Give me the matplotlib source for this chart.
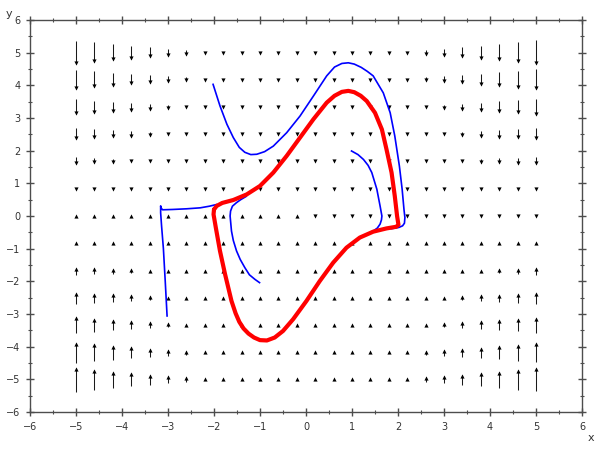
import numpy as np
import matplotlib
matplotlib.use('Agg')
import matplotlib.pyplot as plt
from matplotlib.collections import LineCollection

# grid of the direction field
x_grid = [-5.0, -4.6, -4.2, -3.8, -3.4, -3.0, -2.6, -2.2, -1.8, -1.4, -1.0, -0.6, -0.2,
          0.2, 0.6, 1.0, 1.4, 1.8, 2.2, 2.6, 3.0, 3.4, 3.8, 4.2, 4.6, 5.0]
y_grid = [5.0, 4.17, 3.33, 2.5, 1.67, 0.83, 0.0, -0.83, -1.67, -2.5, -3.33, -4.17, -5.0]

# arrow length in pixels (+ up, - down), one row per y_grid
dy_px = [
    [-24, -21, -17, -14, -11, -8, -6, -4, -2, -1, 0, 0, 0, 0, 0, 0, -1, -2, -4, -6, -8, -11, -14, -17, -21, -25],
    [-20, -17, -14, -11, -9, -7, -5, -3, -2, -1, 0, 0, 0, 0, 0, 0, -1, -2, -3, -5, -7, -9, -12, -15, -18, -21],
    [-16, -13, -11, -9, -7, -5, -4, -2, -1, -1, 0, 0, 0, 0, 0, 0, -1, -1, -3, -4, -5, -7, -9, -12, -14, -17],
    [-12, -10, -8, -7, -5, -4, -3, -2, -1, 0, 0, 0, 0, 0, 0, 0, 0, -1, -2, -3, -4, -5, -7, -9, -10, -12],
    [-8, -6, -5, -4, -3, -2, -2, -1, 0, 0, 0, 0, 0, 0, 0, 0, 0, -1, -1, -2, -3, -4, -5, -6, -7, -8],
    [-3, -3, -2, -2, -1, -1, -1, 0, 0, 0, 0, 0, 0, 0, 0, 0, 0, 0, -1, -1, -1, -2, -2, -3, -3, -4],
    [1, 1, 1, 1, 1, 1, 1, 1, 1, 1, 1, 1, 1, -1, -1, -1, -1, -1, -1, -1, -1, -1, -1, -1, -1, -1],
    [4, 3, 3, 2, 2, 1, 1, 1, 0, 0, 0, 0, 0, 0, 0, 0, 0, 0, 0, 1, 1, 1, 2, 2, 3, 3],
    [8, 7, 6, 5, 4, 3, 2, 1, 1, 0, 0, 0, 0, 0, 0, 0, 0, 0, 1, 2, 2, 3, 4, 5, 6, 8],
    [12, 10, 9, 7, 5, 4, 3, 2, 1, 0, 0, 0, 0, 0, 0, 0, 0, 1, 2, 3, 4, 5, 7, 8, 10, 12],
    [17, 14, 11, 9, 7, 5, 4, 2, 1, 1, 0, 0, 0, 0, 0, 0, 1, 1, 2, 4, 5, 7, 9, 11, 13, 16],
    [21, 18, 15, 12, 9, 7, 5, 3, 2, 1, 0, 0, 0, 0, 0, 0, 1, 2, 3, 5, 7, 9, 11, 14, 17, 20],
    [25, 21, 17, 14, 11, 8, 6, 4, 2, 1, 0, 0, 0, 0, 0, 0, 1, 2, 4, 6, 8, 11, 14, 17, 21, 24],
]

# limit cycle (red)
cycle_x = [-2.0, -1.94, -1.82, -1.58, -1.29, -1.0, -0.71, -0.42, -0.13, 0.16, 0.45, 0.62, 0.78,
           0.92, 1.05, 1.19, 1.32, 1.5, 1.65, 1.75, 1.86, 1.93, 1.98, 2.0, 2.01, 1.96, 1.75,
           1.46, 1.17, 0.88, 0.59, 0.3, 0.01, -0.28, -0.5, -0.68, -0.85, -1.0, -1.13, -1.25,
           -1.36, -1.45, -1.53, -1.62, -1.76, -1.87, -1.96, -2.01, -2.0]
cycle_y = [0.2, 0.31, 0.4, 0.49, 0.66, 0.92, 1.33, 1.84, 2.4, 2.96, 3.47, 3.68, 3.8,
           3.83, 3.79, 3.68, 3.52, 3.16, 2.65, 2.04, 1.33, 0.61, 0.0, -0.18, -0.27, -0.33, -0.38,
           -0.48, -0.66, -0.97, -1.43, -1.99, -2.6, -3.16, -3.52, -3.72, -3.81, -3.8, -3.72, -3.6,
           -3.44, -3.24, -2.98, -2.6, -1.78, -1.07, -0.36, 0.05, 0.2]

# trajectories (blue)
traj_a_x = [-2.02, -1.87, -1.72, -1.58, -1.45, -1.33, -1.2, -1.07, -0.9, -0.71, -0.42, -0.13,
            0.16, 0.45, 0.62, 0.78, 0.92, 1.05, 1.2, 1.33, 1.46, 1.68, 1.83, 1.93, 2.03, 2.09,
            2.13, 2.15, 2.14, 2.1, 2.02, 1.85]
traj_a_y = [4.03, 3.37, 2.81, 2.4, 2.1, 1.95, 1.88, 1.89, 1.97, 2.14, 2.55, 3.06,
            3.67, 4.29, 4.56, 4.67, 4.69, 4.65, 4.55, 4.43, 4.29, 3.77, 3.16, 2.45, 1.53, 0.82,
            0.2, -0.05, -0.22, -0.3, -0.35, -0.39]
traj_b_x = [0.99, 1.13, 1.25, 1.35, 1.43, 1.54, 1.61, 1.65, 1.64, 1.61, 1.55, 1.46, 1.3]
traj_b_y = [1.99, 1.88, 1.73, 1.55, 1.33, 0.82, 0.31, 0.0, -0.12, -0.25, -0.37, -0.46, -0.58]
traj_c_x = [-1.01, -1.11, -1.23, -1.33, -1.43, -1.51, -1.58, -1.62, -1.65, -1.64, -1.6, -1.51,
            -1.42, -1.3]
traj_c_y = [-2.04, -1.94, -1.8, -1.58, -1.33, -1.07, -0.75, -0.46, 0.0, 0.15, 0.3, 0.41,
            0.5, 0.6]
traj_d_x = [-3.02, -3.06, -3.1, -3.14, -3.16, -3.16, -3.15, -3.12, -2.9, -2.6, -2.3, -2.1, -1.95]
traj_d_y = [-3.06, -2.0, -1.0, -0.3, 0.1, 0.31, 0.25, 0.19, 0.2, 0.22, 0.25, 0.3, 0.35]

PX_PER_Y = 392 / 12.0   # vertical pixels per data unit in the 600x450 image
HEAD_PX = 4.0

fig = plt.figure(figsize=(6, 4.5), dpi=100)
ax = fig.add_axes([30 / 600, 38 / 450, 552 / 600, 392 / 450])

# direction field: shafts as line segments, heads as small triangles
segments = []
heads_up, heads_down = [], []
for j, y in enumerate(y_grid):
    for i, x in enumerate(x_grid):
        L = dy_px[j][i]
        if L == 0:
            direction = -1 if y > 0 else 1
        else:
            direction = 1 if L > 0 else -1
        if abs(L) > HEAD_PX:
            tail = y - L / 2 / PX_PER_Y
            tip = y + L / 2 / PX_PER_Y
            segments.append([(x, tail), (x, tip - direction * 1.0 / PX_PER_Y)])
            head_y = tip - direction * (HEAD_PX / 2) / PX_PER_Y
        else:
            head_y = y
        if direction > 0:
            heads_up.append((x, head_y))
        else:
            heads_down.append((x, head_y))

ax.add_collection(LineCollection(segments, colors='#1a1a1a', linewidths=0.75, zorder=2))
for pts, mk in ((heads_up, '^'), (heads_down, 'v')):
    pts = np.array(pts)
    ax.plot(pts[:, 0], pts[:, 1], linestyle='none', marker=mk, markersize=3.0,
            markerfacecolor='black', markeredgewidth=0, zorder=3)

blue = '#0000ff'
for tx, ty in ((traj_a_x, traj_a_y), (traj_b_x, traj_b_y),
               (traj_c_x, traj_c_y), (traj_d_x, traj_d_y)):
    ax.plot(tx, ty, color=blue, linewidth=1.2, solid_joinstyle='round', zorder=4)

ax.plot(cycle_x, cycle_y, color='#ff0000', linewidth=3.0, solid_joinstyle='round',
        solid_capstyle='round', zorder=5)

ax.set_xlim(-6, 6)
ax.set_ylim(-6, 6)
ax.set_xticks(range(-6, 7))
ax.set_yticks(range(-6, 7))
ax.set_xticks(np.arange(-5.5, 6, 1.0), minor=True)
ax.set_yticks(np.arange(-5.5, 6, 1.0), minor=True)

axis_col = '#4d4d4d'
for side in ax.spines.values():
    side.set_color(axis_col)
    side.set_linewidth(1.0)
ax.tick_params(which='both', direction='inout', colors=axis_col, top=True, right=True,
               labelsize=7, labelcolor='#333333')
ax.tick_params(which='major', length=6, width=1.0, pad=4)
ax.tick_params(which='minor', length=3, width=0.8)

fig.text(9 / 600, 1 - 14 / 450, 'y', ha='center', va='center', fontsize=8, color='#333333')
fig.text(591 / 600, 1 - 438 / 450, 'x', ha='center', va='center', fontsize=8, color='#333333')

fig.savefig('out.png', dpi=100)
